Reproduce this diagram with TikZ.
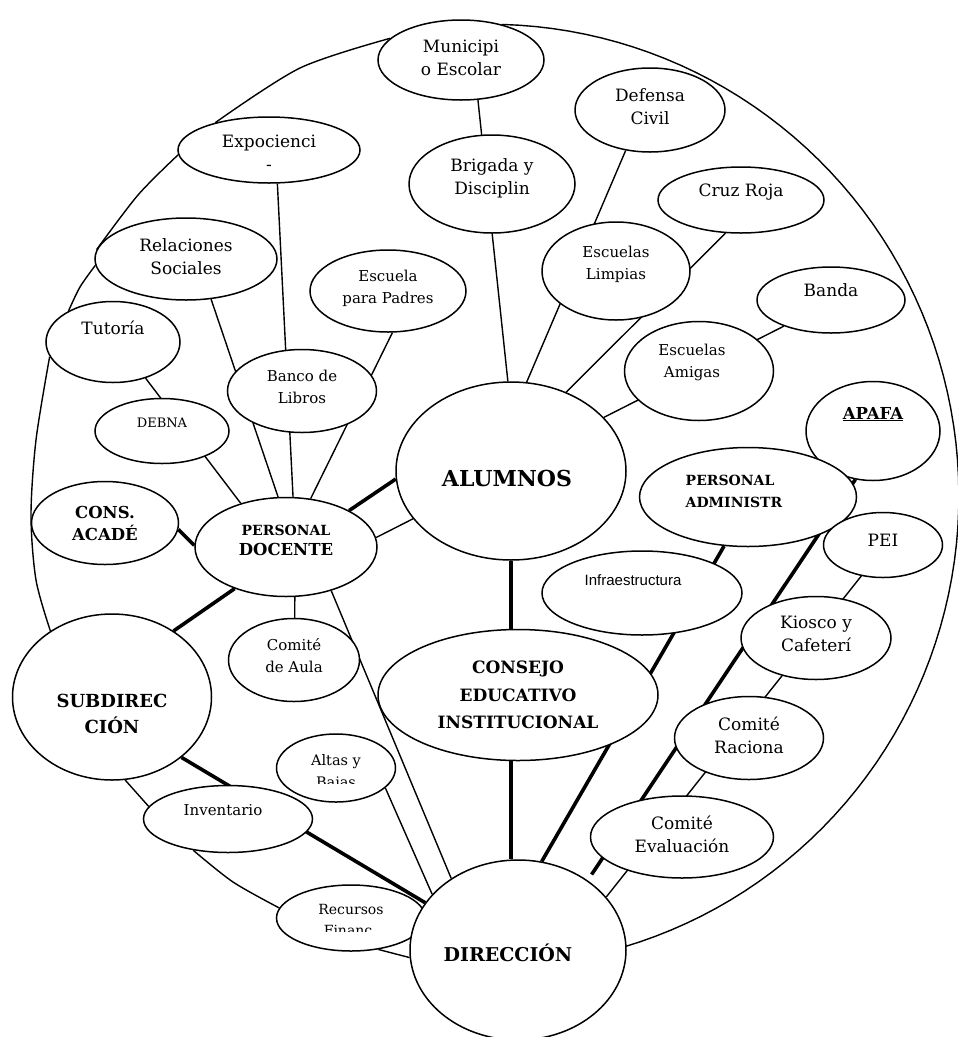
\documentclass[tikz,border=0pt]{standalone}
\usepackage{fontspec}
\setmainfont{DejaVu Serif}
\newfontfamily\sansf{Liberation Sans}
\usetikzlibrary{shapes.geometric,backgrounds}
\begin{document}
\begin{tikzpicture}[x=1pt,y=-1pt,
  ell/.style={draw, ellipse, fill=white, line width=1.5pt, inner sep=0pt},
  tx/.style={align=center, inner sep=0pt},
  reg/.style={tx, font=\fontsize{17}{23}\selectfont},
  sml/.style={tx, font=\fontsize{15}{22}\selectfont},
  thin/.style={line width=1.4pt},
  heavy/.style={line width=3.6pt},
]
\useasboundingbox (0,0) rectangle (958,1037);

% ---------- nodes ----------
\node[ell, minimum width=166pt, minimum height=80pt, label={[reg, yshift=2pt]center:Municipi\\o Escolar}] (mun) at (461,60) {};
\node[ell, minimum width=182pt, minimum height=66pt, label={[reg, yshift=-3pt]center:Expocienci\\-}] (expo) at (269,150) {};
\node[ell, minimum width=166pt, minimum height=98pt, label={[reg, yshift=6pt]center:Brigada y\\Disciplin}] (brig) at (492,184) {};
\node[ell, minimum width=150pt, minimum height=84pt, label={[reg, yshift=3pt]center:Defensa\\Civil}] (def) at (650,110) {};
\node[ell, minimum width=166pt, minimum height=66pt, label={[reg, yshift=8pt]center:Cruz Roja}] (cruz) at (741,200) {};
\node[ell, minimum width=156pt, minimum height=82pt, label={[sml, yshift=3pt]center:Escuela\\para Padres}] (padres) at (388,291) {};
\node[ell, minimum width=182pt, minimum height=82pt, label={[reg, yshift=2pt]center:Relaciones\\Sociales}] (rel) at (186,259) {};
\node[ell, minimum width=134pt, minimum height=81pt, label={[reg, yshift=14pt]center:Tutoría}] (tut) at (113,342) {};
\node[ell, minimum width=148pt, minimum height=98pt, label={[sml, yshift=7pt]center:Escuelas\\Limpias}] (limp) at (616,271) {};
\node[ell, minimum width=148pt, minimum height=66pt, label={[reg, yshift=10pt]center:Banda}] (banda) at (831,300) {};
\node[ell, minimum width=149pt, minimum height=83pt, label={[sml, yshift=4pt]center:Banco de\\Libros}] (banco) at (302,391) {};
\node[ell, minimum width=134pt, minimum height=65pt, label={[tx, font=\fontsize{13}{18}\selectfont, yshift=8pt]center:DEBNA}] (debna) at (162,431) {};
\node[ell, minimum width=149pt, minimum height=99pt, label={[sml, yshift=9pt, xshift=-7pt]center:Escuelas\\Amigas}] (amig) at (699,371) {};
\node[ell, minimum width=230pt, minimum height=178pt, label={[tx, font=\bfseries\fontsize{22}{26}\selectfont, yshift=-7pt, xshift=-4pt]center:ALUMNOS}] (alum) at (511,471) {};
\node[ell, minimum width=134pt, minimum height=99pt, label={[tx, font=\bfseries\fontsize{16.5}{22}\selectfont, yshift=17pt]center:\underline{APAFA}}] (apafa) at (873,431) {};
\node[ell, minimum width=217pt, minimum height=99pt, label={[tx, align=left, font=\bfseries\fontsize{14}{22}\selectfont, yshift=6pt, xshift=-14pt]center:PERSONAL\\ADMINISTR}] (adm) at (748,497) {};
\node[ell, minimum width=147pt, minimum height=83pt, label={[tx, font=\bfseries\fontsize{16.5}{22}\selectfont]center:CONS.\\ACADÉ}] (cons) at (105,523) {};
\node[ell, minimum width=182pt, minimum height=99pt, label={[tx, font=\bfseries\fontsize{16.5}{20}\selectfont, yshift=7pt]center:{\fontsize{14}{20}\selectfont PERSONAL}\\DOCENTE}] (doc) at (286,547) {};
\node[ell, minimum width=119pt, minimum height=65pt, label={[reg, yshift=5pt]center:PEI}] (pei) at (883,545) {};
\node[ell, minimum width=200pt, minimum height=84pt, label={[tx, font=\sansf\fontsize{15}{20}\selectfont, yshift=13pt, xshift=-9pt]center:Infraestructura}] (infra) at (642,593) {};
\node[ell, minimum width=150pt, minimum height=83pt, label={[reg, yshift=4pt]center:Kiosco y\\Cafeterí}] (kiosk) at (816,638) {};
\node[ell, minimum width=131pt, minimum height=83pt, label={[sml, yshift=4pt]center:Comité\\de Aula}] (aula) at (294,660) {};
\node[ell, minimum width=199pt, minimum height=166pt, label={[tx, font=\bfseries\fontsize{18}{26}\selectfont, yshift=-17pt]center:SUBDIREC\\CIÓN}] (sub) at (112,697) {};
\node[ell, minimum width=280pt, minimum height=131pt, label={[tx, font=\bfseries\fontsize{17}{27.5}\selectfont]center:CONSEJO\\EDUCATIVO\\INSTITUCIONAL}] (consejo) at (518,695) {};
\node[ell, minimum width=149pt, minimum height=83pt, label={[reg, yshift=3pt]center:Comité\\Raciona}] (rac) at (749,738) {};
\node[ell, minimum width=119pt, minimum height=68pt, label={[tx, font=\fontsize{14.5}{20}\selectfont, yshift=6pt]center:Altas y}] (altas) at (336,768) {};
\node[ell, minimum width=169pt, minimum height=67pt, label={[sml, yshift=9pt, xshift=-5pt]center:Inventario}] (inv) at (228,819) {};
\node[ell, minimum width=183pt, minimum height=82pt, label={[reg, yshift=3pt]center:Comité\\Evaluación}] (eval) at (682,837) {};
\node[ell, minimum width=149pt, minimum height=66pt, label={[tx, font=\fontsize{14}{20}\selectfont, yshift=9pt]center:Recursos}] (rec) at (351,918) {};
\node[ell, minimum width=216pt, minimum height=180pt, label={[tx, font=\bfseries\fontsize{19}{24}\selectfont, yshift=-3pt, xshift=-10pt]center:DIRECCIÓN}] (dir) at (518,950) {};

% clipped second lines
\begin{scope}
  \clip (280,772) rectangle (392,783);
  \node[tx, font=\fontsize{14.5}{20}\selectfont] (bajas) at (336,784) {Bajas};
\end{scope}
\begin{scope}
  \clip (300,920) rectangle (400,931.5);
  \node[tx, font=\fontsize{14}{20}\selectfont] (financ) at (348,930) {Financ};
\end{scope}

% ---------- connectors ----------
\begin{scope}[on background layer]
  % thin
  \draw[thin] (mun.-67) -- (alum.92);
  \draw[thin] (expo.-76) -- (doc.82);
  \draw[thin] (rel.-58) -- (doc.99);
  \draw[thin] (padres.-84) -- (doc.63);
  \draw[thin] (tut.-48) -- (doc.136);
  \draw[thin] (doc.6) -- (alum.206);
  \draw[thin] (doc.-80) -- (aula.89);
  \draw[thin] (doc.-44) -- (dir.133);
  \draw[thin] (altas.-22) -- (dir.147);
  \draw[thin] (def.-121) -- (alum.80);
  \draw[thin] (cruz.-115) -- (alum.55);
  \draw[thin] (banda.-151) -- (alum.30);
  \draw[thin] (pei.-125) -- (dir.31);
  % heavy
  \draw[heavy] (cons.-5) -- (doc.179);
  \draw[heavy] (doc.30) -- (alum.184);
  \draw[heavy] (doc.219) -- (sub.47);
  \draw[heavy] (sub.-41) -- (dir.153);
  \draw[heavy] (alum.south) -- (alum.south |- consejo.north);
  \draw[heavy] (alum.south |- consejo.south) -- (alum.south |- dir.north);
  \draw[heavy] (adm.-116) -- (dir.75);
  \draw[heavy, shorten >=7pt] (apafa.-110) -- (dir.45);
  % outer loop
  \draw[thin] (dir.2) -- plot[domain=72:-87, samples=80, variable=\t]
     ({478+(481-8*((\t+8)/80)^2)*cos(\t)}, {497+(481-8*((\t+8)/80)^2)*sin(\t)}) -- (mun.41);
  \draw[thin] plot[smooth] coordinates {(mun.163) (300,68) (expo.153)};
  \draw[thin] plot[smooth] coordinates {(expo.183) (138,195) (rel.174)};
  \draw[thin] plot[smooth] coordinates {(rel.184) (80,287) (tut.145)};
  \draw[thin] plot[smooth] coordinates {(tut.193) (36,440) (31,515) (36,580) (sub.133)};
  \draw[thin] (sub.-81) -- (inv.171);
  \draw[thin] plot[smooth] coordinates {(inv.-138) (233,882) (rec.172)};
  \draw[thin] (rec.-49) -- (dir.184);
\end{scope}
\end{tikzpicture}
\end{document}
